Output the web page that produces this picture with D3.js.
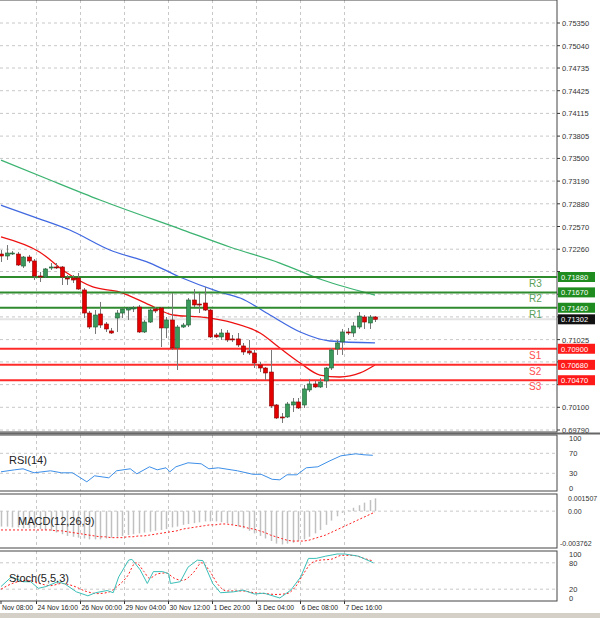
<!DOCTYPE html>
<html><head><meta charset="utf-8">
<script src="https://cdnjs.cloudflare.com/ajax/libs/d3/7.8.5/d3.min.js"></script>
<style>body{margin:0;background:#fff}svg{display:block;font-family:"Liberation Sans",Arial,sans-serif}</style>
</head><body><svg id="c" width="600" height="618"></svg>
<script>
const opens=[.72194,.72167,.72201,.72194,.72030,.72153,.72099,.71894,.71880,.72003,.72017,.72017,.71866,.71866,.71866,.71703,.71388,.71197,.71375,.71238,.71143,.71320,.71388,.71429,.71443,.71470,.71129,.71265,.71443,.71457,.71184,.71293,.70911,.71197,.71224,.71566,.71511,.71525,.71429,.71088,.71061,.71115,.71034,.71034,.70938,.70870,.70842,.70678,.70637,.70582,.70132,.69968,.69968,.70132,.70173,.70132,.70337,.70419,.70378,.70460,.70637,.70897,.70993,.71129,.71115,.71197,.71334,.71252,.71334];
const highs=[.72249,.72317,.72235,.72222,.72167,.72181,.72126,.71949,.72003,.72071,.72071,.72030,.71907,.71907,.71935,.71730,.71416,.71429,.71539,.71265,.71184,.71429,.71457,.71470,.71484,.71498,.71293,.71457,.71470,.71470,.71334,.71661,.71224,.71252,.71593,.71716,.71662,.71744,.71443,.71115,.71170,.71156,.71088,.71115,.70979,.71020,.70883,.70719,.70651,.70883,.70145,.70022,.70173,.70227,.70227,.70405,.70487,.70460,.70501,.70651,.70910,.71020,.71170,.71184,.71265,.71402,.71361,.71361,.71347];
const lows=[.72085,.72113,.72181,.72030,.72003,.72071,.71839,.71812,.71866,.71976,.71990,.71771,.71771,.71798,.71703,.71320,.71170,.71102,.71184,.71129,.71102,.71129,.71320,.71293,.71402,.71115,.71115,.71252,.71388,.70924,.71047,.70883,.70610,.71184,.71197,.71470,.71388,.71416,.71047,.71047,.71020,.70993,.70993,.70924,.70815,.70815,.70637,.70582,.70473,.70091,.69940,.69886,.69954,.70036,.70077,.70091,.70309,.70364,.70364,.70364,.70610,.70815,.70815,.71088,.71061,.71170,.71170,.71170,.71265];
const closes=[.72167,.72208,.72208,.72044,.72153,.72099,.71894,.71880,.71990,.72017,.72010,.71880,.71853,.71839,.71716,.71388,.71197,.71361,.71224,.71170,.71115,.71388,.71443,.71457,.71457,.71129,.71265,.71429,.71416,.71184,.71293,.70911,.71197,.71224,.71566,.71498,.71498,.71429,.71061,.71061,.71115,.71020,.71027,.70952,.70856,.70842,.70705,.70637,.70569,.70118,.69954,.69961,.70145,.70173,.70091,.70351,.70419,.70378,.70446,.70637,.70883,.70979,.71129,.71122,.71211,.71347,.71265,.71334,.71302];
const maRed=[[0,.72427],[7,.72222],[12,.71935],[16.7,.71744],[21.6,.71675],[27,.71498],[31.3,.71361],[36.2,.71334],[42.2,.71252],[47.1,.71115],[50.7,.70910],[54.4,.70705],[58,.70541],[61.6,.70514],[65.3,.70569],[68,.70678]];
const maBlue=[[0,.72861],[6.2,.72696],[12.5,.72522],[19.8,.72249],[27.1,.72071],[32.5,.71880],[39.8,.71675],[43.5,.71593],[48.9,.71361],[54.4,.71129],[59.8,.71006],[68,.70979]];
const maGreen=[[0,.73478],[8.9,.73205],[18,.72932],[33.1,.72522],[41.6,.72290],[50.7,.72071],[58.5,.71839],[68,.71634]];
const priceTicks=[.75350,.75040,.74735,.74425,.74115,.73805,.73500,.73190,.72880,.72570,.72260,.71955,.71645,.71335,.71025,.70720,.70410,.70100,.69790];
const levelNames=["R3","R2","R1","S1","S2","S3"];
const levelValues=[.71880,.71670,.71460,.70900,.70680,.70470];
const lastPrice=.71302;
const dateLabels=["Nov 08:00","24 Nov 16:00","26 Nov 00:00","29 Nov 04:00","30 Nov 12:00","1 Dec 20:00","3 Dec 04:00","6 Dec 08:00","7 Dec 16:00"];
const dateIdx=[-1,7,15,23,31,39,47,55,63];
const rsiIdx=[0,2.5,4,6,9,11,13,15.6,17,19.6,21,23.5,24.7,27,28.4,30,30.7,31.8,34,36.4,37.8,39.5,43,45.8,47.3,49.3,50.7,52,53.8,55.5,57.6,59.8,61.8,64.5,66,67.6];
const rsiVal=[33,37,39,31,35,31,31,13,25,21,35,39,29,43,37,41,33,43,51,49,39,41,35,28,28,18,17,27,27,41,43,55,65,69,67,66];
const rsiTicks=[100,70,30,0];
const macdHist=[-1.8,-1.8,-1.9,-1.9,-2.0,-2.0,-2.0,-2.1,-2.2,-2.3,-2.5,-2.7,-2.9,-3.0,-3.1,-3.2,-3.3,-3.3,-3.3,-3.2,-3.1,-3.0,-2.9,-2.8,-2.7,-2.6,-2.5,-2.4,-2.3,-2.2,-2.1,-1.9,-1.8,-1.6,-1.5,-1.4,-1.3,-1.2,-1.2,-1.2,-1.3,-1.4,-1.6,-1.8,-2.0,-2.3,-2.6,-2.9,-3.2,-3.5,-3.8,-3.9,-3.8,-3.7,-3.5,-3.3,-3.0,-2.6,-2.2,-1.6,-1.1,-0.6,-0.2,0.1,0.4,0.7,1.0,1.3,1.5];
const macdSignal=[-2.2,-2.2,-2.2,-2.2,-2.2,-2.2,-2.2,-2.2,-2.2,-2.2,-2.3,-2.3,-2.4,-2.5,-2.6,-2.7,-2.8,-2.9,-3.0,-3.0,-3.1,-3.1,-3.1,-3.0,-3.0,-2.9,-2.9,-2.8,-2.7,-2.6,-2.5,-2.4,-2.3,-2.1,-2.0,-1.9,-1.8,-1.7,-1.6,-1.6,-1.5,-1.5,-1.6,-1.7,-1.8,-2.0,-2.1,-2.3,-2.5,-2.8,-3.0,-3.2,-3.4,-3.5,-3.5,-3.5,-3.4,-3.2,-3.0,-2.8,-2.5,-2.2,-1.9,-1.6,-1.3,-1.0,-0.7,-0.4,-0.1];
const macdTicks=["0.001507","0.00","-0.003762"];
const stochIdx=[0,1.9,4,5.4,6.8,8.2,10.3,11.6,13.7,15.8,17.2,19.3,20.4,21.4,23.2,23.8,25.3,26.6,27.7,29.4,30.5,30.8,32.6,34,35.7,36.7,38.5,39.9,42.3,44,46.1,47.8,50.7,52.7,54.5,55.9,57.3,59,61.1,62.5,65,67.7];
const stochK=[26,48,37,37,22,26,37,32,14,5,12,17,12,48,86,88,64,33,60,60,55,33,37,70,86,85,33,12,14,18,9,11,0,18,48,90,90,95,100,100,95,80];
const stochSig=[[0,20],[2.5,35],[5,40],[7,33],[9,28],[11,33],[13,28],[15.5,15],[17.5,10],[19.5,13],[21,25],[23,50],[24.5,80],[26,60],[27,45],[28.5,55],[30,57],[31.5,45],[33,40],[35,58],[36.5,80],[38,60],[39.5,30],[41,16],[44,16],[46,12],[48,10],[50,8],[52,10],[53.5,25],[55,55],[56.5,80],[58,86],[60,88],[62,97],[64,97],[66,90],[67.7,84]];
const stochTicks=[100,80,20,0];

const svg=d3.select("#c");
const PR=557;
const x=d3.scaleLinear().domain([0,1]).range([1,6.5]);
const yP=d3.scaleLinear().domain([0.69790,0.75350]).range([430,23]);
const yR=d3.scaleLinear().domain([0,100]).range([488.3,438.3]);
const yM=d3.scaleLinear().domain([-0.003762,0.001507]).range([543.3,498.3]);
const yS=d3.scaleLinear().domain([0,100]).range([598,554]);
const panels=[[0,432],[435,491],[494,548],[551,601]];
const grid="#c8c8c8";
panels.forEach(p=>{
  dateIdx.forEach(i=>{const xx=x(i)-3; if(xx>0) svg.append("line").attr("x1",xx).attr("x2",xx).attr("y1",p[0]).attr("y2",p[1]).attr("stroke",grid).attr("stroke-dasharray","3,3");});
});
priceTicks.forEach(t=>{svg.append("line").attr("x1",0).attr("x2",PR).attr("y1",yP(t)).attr("y2",yP(t)).attr("stroke",grid).attr("stroke-dasharray","3,3");});
[70,30].forEach(t=>svg.append("line").attr("x1",0).attr("x2",PR).attr("y1",yR(t)).attr("y2",yR(t)).attr("stroke",grid).attr("stroke-dasharray","3,3"));
[80,20].forEach(t=>svg.append("line").attr("x1",0).attr("x2",PR).attr("y1",yS(t)).attr("y2",yS(t)).attr("stroke",grid).attr("stroke-dasharray","3,3"));
svg.append("line").attr("x1",0).attr("x2",PR).attr("y1",yM(0)).attr("y2",yM(0)).attr("stroke",grid).attr("stroke-dasharray","3,3");
svg.append("line").attr("x1",0).attr("x2",PR).attr("y1",yP(lastPrice)).attr("y2",yP(lastPrice)).attr("stroke","#e4e4e4").attr("stroke-width",2);
const maLine=d3.line().x(d=>x(d[0])).y(d=>yP(d[1])).curve(d3.curveMonotoneX);
[[maGreen,"#3cb371"],[maBlue,"#4169e1"],[maRed,"#ee1111"]].forEach(([d,c])=>svg.append("path").attr("d",maLine(d)).attr("fill","none").attr("stroke",c).attr("stroke-width",1.3));
levelValues.forEach((v,i)=>{
  const g=i<3, col=g?"#2e8b2e":"#ff2a2a";
  svg.append("line").attr("x1",0).attr("x2",PR).attr("y1",yP(v)).attr("y2",yP(v)).attr("stroke",col).attr("stroke-width",2);
  svg.append("text").attr("x",529).attr("y",yP(v)+10).attr("font-size",10).attr("fill",g?"#5aa05a":"#ff5050").text(levelNames[i]);
});
opens.forEach((o,i)=>{
  const c=closes[i], up=c>=o, cx=Math.round(x(i))+0.5;
  svg.append("line").attr("x1",cx).attr("x2",cx).attr("y1",yP(highs[i])).attr("y2",yP(lows[i])).attr("stroke","#777");
  const t=yP(Math.max(o,c)), b=yP(Math.min(o,c));
  svg.append("rect").attr("x",cx-2).attr("y",t).attr("width",4).attr("height",Math.max(1,b-t)).attr("fill",up?"#3a9a5c":"#e50000").attr("stroke",up?"#1d5e34":"#8b0000").attr("stroke-width",0.6);
});
const tags=levelValues.concat([lastPrice]);
priceTicks.forEach(t=>{
  svg.append("line").attr("x1",PR).attr("x2",PR+3).attr("y1",yP(t)).attr("y2",yP(t)).attr("stroke","#333");
  if(tags.some(v=>Math.abs(yP(v)-yP(t))<9)) return;
  svg.append("text").attr("x",PR+5).attr("y",yP(t)+3).attr("font-size",7.5).attr("fill","#333").text(t.toFixed(5));
});
tags.forEach((v,i)=>{
  const col=i<3?"#1e8c1e":(i<6?"#ff1a1a":"#111");
  svg.append("rect").attr("x",PR+1).attr("y",yP(v)-5).attr("width",37).attr("height",10).attr("fill",col);
  svg.append("text").attr("x",PR+4).attr("y",yP(v)+3).attr("font-size",7.5).attr("fill","#fff").text(v.toFixed(5));
});
svg.append("path").attr("d",d3.line().x((d,i)=>x(rsiIdx[i])).y(d=>yR(d))(rsiVal)).attr("fill","none").attr("stroke","#3d8fe8").attr("stroke-width",1);
rsiTicks.forEach(t=>svg.append("text").attr("x",PR+12).attr("y",yR(t)+3).attr("font-size",7.5).attr("fill","#333").text(t));
svg.append("text").attr("x",9).attr("y",464).attr("font-size",11).attr("fill","#222").text("RSI(14)");
macdHist.forEach((v,i)=>{const cx=Math.round(x(i))+0.5;svg.append("line").attr("x1",cx).attr("x2",cx).attr("y1",yM(0)).attr("y2",yM(v/1000)).attr("stroke","#c0c0c0").attr("stroke-width",1.5);});
svg.append("path").attr("d",d3.line().x((d,i)=>x(i)).y(d=>yM(d/1000))(macdSignal)).attr("fill","none").attr("stroke","#ff2020").attr("stroke-dasharray","2,2").attr("stroke-width",1);
svg.append("text").attr("x",18).attr("y",525).attr("font-size",11).attr("fill","#222").text("MACD(12,26,9)");
macdTicks.forEach(t=>svg.append("text").attr("x",PR+ (t.startsWith("-")?3:11)).attr("y",yM(+t)+3).attr("font-size",7).attr("fill","#333").text(t));
svg.append("path").attr("d",d3.line().x(d=>x(d[0])).y(d=>yS(d[1])).curve(d3.curveMonotoneX)(stochSig)).attr("fill","none").attr("stroke","#ff2020").attr("stroke-dasharray","2,2");
svg.append("path").attr("d",d3.line().x((d,i)=>x(stochIdx[i])).y(d=>yS(d))(stochK)).attr("fill","none").attr("stroke","#3bbfb8").attr("stroke-width",1);
stochTicks.forEach(t=>svg.append("text").attr("x",PR+12).attr("y",yS(t)+3).attr("font-size",7.5).attr("fill","#333").text(t));
svg.append("text").attr("x",9).attr("y",582).attr("font-size",11).attr("fill","#222").text("Stoch(5,5,3)");
dateLabels.forEach((d,k)=>{const xx=Math.max(1,x(dateIdx[k])-3);
  svg.append("line").attr("x1",xx).attr("x2",xx).attr("y1",601).attr("y2",604).attr("stroke","#333");
  svg.append("text").attr("x",xx+1).attr("y",610).attr("font-size",6.8).attr("fill","#222").text(d);});
panels.forEach(p=>svg.append("rect").attr("x",-1).attr("y",p[0]).attr("width",PR+1).attr("height",p[1]-p[0]).attr("fill","none").attr("stroke","#444").attr("stroke-width",1));
svg.append("line").attr("x1",0).attr("x2",600).attr("y1",433.5).attr("y2",433.5).attr("stroke","#666").attr("stroke-width",2);
svg.append("rect").attr("x",0).attr("y",613).attr("width",600).attr("height",5).attr("fill","#d4d0c8");
</script></body></html>
